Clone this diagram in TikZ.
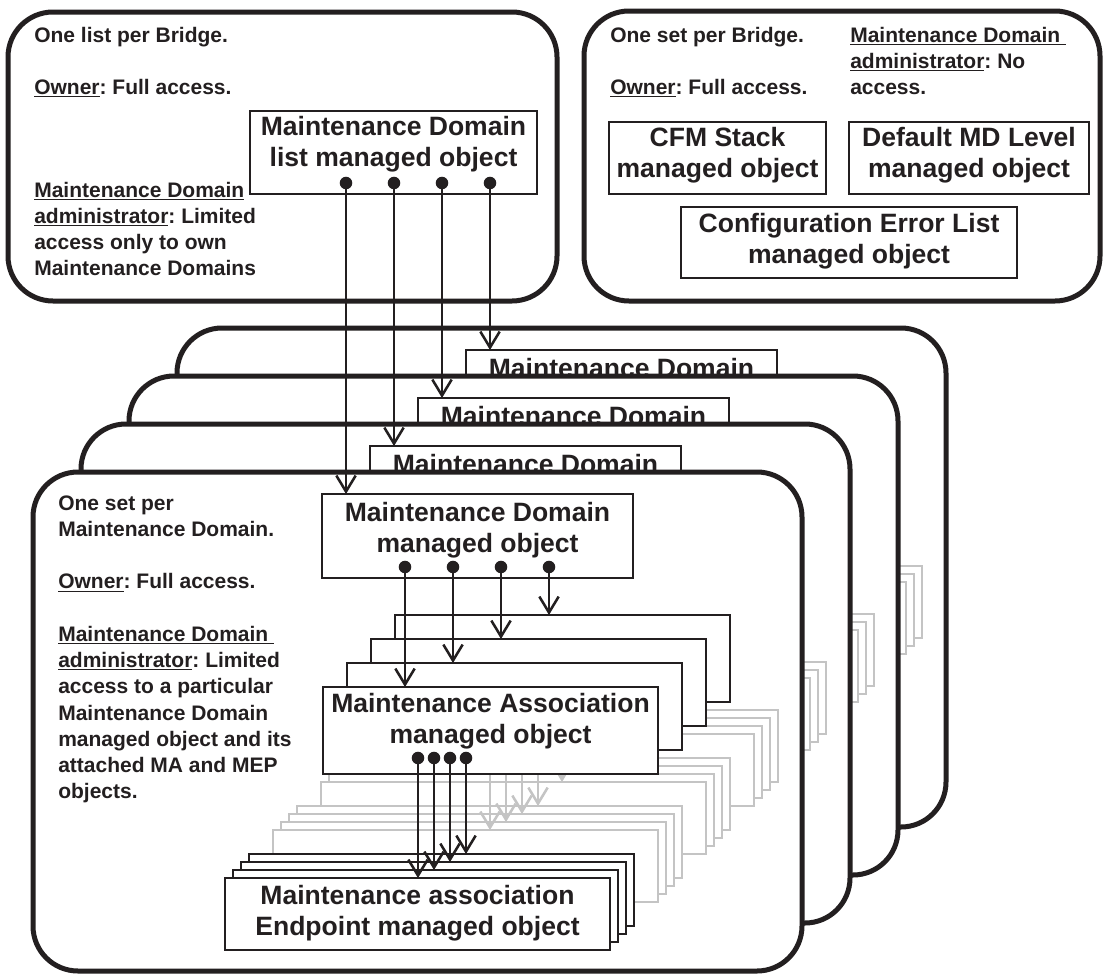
\documentclass[tikz,border=0pt]{standalone}
\usepackage{fontspec}
\setmainfont{Liberation Sans}
\usetikzlibrary{arrows.meta}
\frenchspacing
\definecolor{ink}{RGB}{35,31,32}
\definecolor{lgray}{RGB}{196,196,196}
\newcommand\mytl[1]{\begin{tabular}[t]{@{}l@{}}#1\end{tabular}}
\newcommand\mytc[1]{\begin{tabular}[t]{@{}c@{}}#1\end{tabular}}
\newcommand\pbox[6]{\node[#6, minimum width={((#4)-(#2))*0.75pt}, minimum height={((#5)-(#3))*0.75pt}] (#1) at ({((#2)+(#4))/2},{((#3)+(#5))/2}) {};}
\tikzset{
  layerbox/.style={draw=ink, line width=3.75pt, fill=white, rounded corners=33.75pt, inner sep=0pt, outer sep=0pt},
  objbox/.style={draw=ink, line width=1.25pt, fill=white, inner sep=0pt, outer sep=0pt},
  graybox/.style={draw=lgray, line width=1.2pt, fill=white, inner sep=0pt, outer sep=0pt},
  arr/.style={draw=ink, line width=1.9pt, -{Straight Barb[length=12pt,width=14.5pt]}},
  grayarr/.style={arr, draw=lgray},
  boxtxt/.style={font=\fontsize{19.9}{23.25}\selectfont\bfseries, text=ink, inner sep=0pt, anchor=base},
  lbl/.style={font=\fontsize{15.75}{19.7}\selectfont\bfseries, text=ink, inner sep=0pt, anchor=base west},
}
\newcommand\drawlayer[2]{%
  \pbox{lay#1}{33}{472}{802}{971}{layerbox}%
  \foreach \k in {3,2,1}{%
    \foreach \j in {3,2,1,0}{%
      \pbox{g#1-\k-\j}{225+48*\k+8*\j}{878-48*\k-8*\j}{610+48*\k+8*\j}{950-48*\k-8*\j}{graybox}%
    }%
    \foreach \i in {0,1,2,3}{%
      \coordinate (gs#1-\k-\i) at ({418+72*\k+16*\i},{768-48*\k});%
      \draw[grayarr] (gs#1-\k-\i) -- (gs#1-\k-\i |- g#1-\k-\i.north);%
    }%
  }%
  \foreach \j in {3,2,1,0}{%
    \pbox{ma#1-\j}{323+24*\j}{687-24*\j}{658+24*\j}{774-24*\j}{objbox}%
  }%
  \foreach \j in {3,2,1,0}{%
    \pbox{mep#1-\j}{225+8*\j}{878-8*\j}{610+8*\j}{950-8*\j}{objbox}%
  }%
  \foreach \i in {0,1,2,3}{%
    \coordinate (mad#1-\i) at ({418+16*\i},758);%
    \draw[arr] (mad#1-\i) -- (mad#1-\i |- mep#1-\i.north);%
    \fill[ink] (mad#1-\i) circle (4.7pt);%
  }%
  \pbox{md#1}{322}{494}{633}{578}{objbox}%
  \node[boxtxt] (mdt#1) at (477.5,521.5) {\mytc{#2}};%
  \foreach \i in {0,1,2,3}{%
    \coordinate (mdd#1-\i) at ({405+48*\i},567);%
    \draw[arr] (mdd#1-\i) -- (mdd#1-\i |- ma#1-\i.north);%
    \fill[ink] (mdd#1-\i) circle (4.7pt);%
  }%
}
\begin{document}
\begin{tikzpicture}[x=0.75pt,y=-0.75pt]
\useasboundingbox (0,0) rectangle (1104,975);
\fill[white] (0,0) rectangle (1104,975);

% top left box
\pbox{tlbox}{8}{12}{557}{301}{layerbox}
\node[lbl] (tlt1) at (34,42) {\mytl{One list per Bridge.\\ \\\underline{Owner}: Full access.}};
\node[lbl] (tlt2) at (34,197) {\mytl{\underline{Maintenance Domain}\\\underline{administrator}: Limited\\access only to own\\Maintenance Domains}};
\pbox{mdl}{250}{111}{537}{194}{objbox}
\node[boxtxt] (mdlt) at (393.5,135.5) {\mytc{Maintenance Domain\\list managed object}};

% top right box
\pbox{trbox}{584}{11}{1100}{301}{layerbox}
\node[lbl] (trl) at (610,42) {\mytl{One set per Bridge.\\ \\\underline{Owner}: Full access.}};
\node[lbl] (trr) at (850,42) {\mytl{\underline{Maintenance Domain\ }\\\underline{administrator}: No\\access.}};
\pbox{cfm}{609}{122}{826}{194}{objbox}
\node[boxtxt] (cfmt) at (717.5,146) {\mytc{CFM Stack\\managed object}};
\pbox{dmd}{849}{122}{1089}{194}{objbox}
\node[boxtxt] (dmdt) at (969,146) {\mytc{Default MD Level\\managed object}};
\pbox{cel}{681}{207}{1017}{278}{objbox}
\node[boxtxt] (celt) at (849,232.5) {\mytc{Configuration Error List\\managed object}};

% stacked layers
\begin{scope}[shift={(144,-144)}]\drawlayer{4}{Maintenance Domain}\end{scope}
\begin{scope}[shift={(96,-96)}]\drawlayer{3}{Maintenance Domain}\end{scope}
\begin{scope}[shift={(48,-48)}]\drawlayer{2}{Maintenance Domain}\end{scope}
\drawlayer{1}{Maintenance Domain\\managed object}
\node[boxtxt] (mat1) at (490.5,712.5) {\mytc{Maintenance Association\\managed object}};
\node[boxtxt] (mept1) at (417.5,904.5) {\mytc{Maintenance association\\Endpoint managed object}};
\node[lbl] (l1txt) at (58,510) {\mytl{One set per\\Maintenance Domain.\\ \\\underline{Owner}: Full access.\\ \\\underline{Maintenance Domain\ }\\\underline{administrator}: Limited\\access to a particular\\Maintenance Domain\\managed object and its\\attached MA and MEP\\objects.}};

% connectors from the list object
\foreach \i/\L in {0/1,1/2,2/3,3/4}{
  \coordinate (mdl-\i) at ({346+48*\i},183);
  \draw[arr] (mdl-\i) -- (mdl-\i |- md\L.north);
  \fill[ink] (mdl-\i) circle (4.7pt);
}
\end{tikzpicture}
\end{document}
